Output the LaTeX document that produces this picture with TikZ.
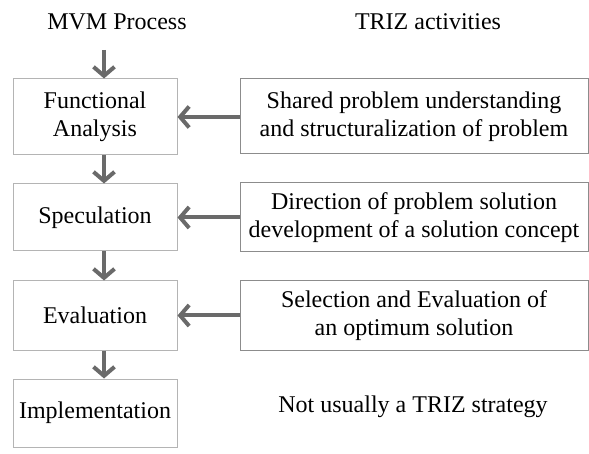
\documentclass[tikz,border=0pt]{standalone}
\usepackage{fontspec}
\setmainfont{Liberation Serif}
\usetikzlibrary{arrows.meta}
\definecolor{arrowgray}{HTML}{6A6A6A}
\definecolor{leftframe}{HTML}{B4B4B4}
\definecolor{rightframe}{HTML}{8C8C8C}
\tikzset{
  stage/.style={draw=leftframe, line width=1pt, minimum width=164pt, inner sep=0pt, align=center, font=\fontsize{24}{28}\selectfont},
  activity/.style={draw=rightframe, line width=1pt, minimum width=348pt, inner sep=0pt, align=center, font=\fontsize{24}{28}\selectfont},
  heading/.style={inner sep=0pt, font=\fontsize{24}{28}\selectfont},
  flow/.style={draw=arrowgray, line width=4pt, -{Straight Barb[length=9pt,width=21pt,line width=4pt]}},
}
\begin{document}
\begin{tikzpicture}[x=1pt,y=-1pt]
  \useasboundingbox (0,0) rectangle (589,454);

  % column headings
  \node[heading] (hmvm) at (117,22) {MVM Process};
  \node[heading] (htriz) at (428,22) {TRIZ activities};

  % MVM process stages
  \node[stage, minimum height=76pt] (fa) at (95,117) {Functional\\Analysis};
  \node[stage, minimum height=67pt] (sp) at (95,217.5) {Speculation};
  \node[stage, minimum height=69pt] (ev) at (95,315.5) {Evaluation};
  \node[stage, minimum height=68pt] (im) at (95,413) {Implementation};

  % TRIZ activities
  \node[activity, minimum height=75pt] (t1) at (414,116.5) {Shared problem understanding\\and structuralization of problem};
  \node[activity, minimum height=69pt] (t2) at (414,217.5) {Direction of problem solution\\development of a solution concept};
  \node[activity, minimum height=69pt] (t3) at (414,315.5) {Selection and Evaluation of\\an optimum solution};
  \node[heading] (t4) at (413,407) {Not usually a TRIZ strategy};

  % process flow
  \coordinate (start) at (104,50);
  \draw[flow] (start) -- (start |- fa.north);
  \draw[flow] ([xshift=9pt]fa.south) -- ([xshift=9pt]sp.north);
  \draw[flow] ([xshift=9pt]sp.south) -- ([xshift=9pt]ev.north);
  \draw[flow] ([xshift=9pt]ev.south) -- ([xshift=9pt]im.north);

  % TRIZ support feeding the stages
  \draw[flow] (t1.west |- fa.east) -- (fa.east);
  \draw[flow] (t2.west |- sp.east) -- (sp.east);
  \draw[flow] (t3.west |- ev.east) -- (ev.east);
\end{tikzpicture}
\end{document}
